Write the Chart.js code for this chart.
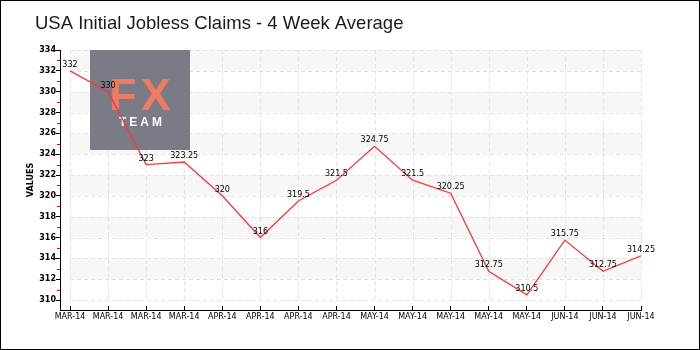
<!DOCTYPE html>
<html>
<head>
<meta charset="utf-8">
<script src="https://cdn.jsdelivr.net/npm/chart.js@4/dist/chart.umd.min.js"></script>
<style>
  html, body { margin: 0; padding: 0; background: #ffffff; }
  canvas { display: block; }
</style>
</head>
<body>
<canvas id="chart" width="700" height="350"></canvas>
<script>
// Weekly 4-week average of initial jobless claims (thousands)
const categories = ['MAR-14', 'MAR-14', 'MAR-14', 'MAR-14', 'APR-14', 'APR-14', 'APR-14', 'APR-14',
                    'MAY-14', 'MAY-14', 'MAY-14', 'MAY-14', 'MAY-14', 'JUN-14', 'JUN-14', 'JUN-14'];
const claims = [332, 330, 323, 323.25, 320, 316, 319.5, 321.5, 324.75, 321.5, 320.25, 312.75, 310.5, 315.75, 312.75, 314.25];
const yMin = 310;
const yMax = 334;
const yStep = 2;

const titleText = 'USA Initial Jobless Claims - 4 Week Average';
const axisTitle = 'VALUES';

const gridColor = '#e3e3e3';
const lineColor = '#ff3636';

// Axes sit 10px away from the plotted grid, so each range is padded a little
const xPad = -0.2627;
const yPad = 309.04;

// Tick positions: one per category, and every yStep on the value axis
const xTicks = (scale) => {
  scale.ticks = categories.map((_, i) => ({ value: i }));
};
const yTicks = (scale) => {
  const list = [];
  for (let v = yMin; v <= yMax; v += yStep) list.push({ value: v });
  scale.ticks = list;
};

// Alternating horizontal bands and the dashed grid, kept inside the data range
const gridPlugin = {
  id: 'bandsAndGrid',
  beforeDatasetsDraw(chart) {
    const { ctx } = chart;
    const x = chart.scales.x;
    const y = chart.scales.y;
    const left = x.getPixelForValue(0);
    const right = x.getPixelForValue(categories.length - 1);
    const top = y.getPixelForValue(yMax);
    const bottom = y.getPixelForValue(yMin);
    ctx.save();
    ctx.fillStyle = '#f7f7f7';
    for (let v = yMax; v > yMin; v -= 2 * yStep) {
      const t = y.getPixelForValue(v);
      const b = y.getPixelForValue(v - yStep);
      ctx.fillRect(left, t, right - left, b - t);
    }
    ctx.strokeStyle = gridColor;
    ctx.lineWidth = 1;
    ctx.setLineDash([4, 3]);
    ctx.beginPath();
    for (let v = yMin; v <= yMax; v += yStep) {
      const py = Math.round(y.getPixelForValue(v)) + 0.5;
      ctx.moveTo(left, py);
      ctx.lineTo(right + 1, py);
    }
    for (let i = 0; i < categories.length; i++) {
      const px = Math.round(x.getPixelForValue(i)) + 0.5;
      ctx.moveTo(px, top);
      ctx.lineTo(px, bottom + 1);
    }
    ctx.stroke();
    ctx.restore();
  }
};

// Brand block sitting over the grid, under the line
const badgePlugin = {
  id: 'badge',
  beforeDatasetsDraw(chart) {
    const { ctx, chartArea } = chart;
    const bx = chart.scales.x.getPixelForValue(0) + 20;
    const by = chartArea.top;
    ctx.save();
    ctx.fillStyle = '#7b7b85';
    ctx.fillRect(bx, by, 100, 100);
    ctx.textAlign = 'center';
    ctx.textBaseline = 'alphabetic';
    ctx.fillStyle = '#f17a62';
    ctx.font = 'bold 45px "Liberation Sans", Arial, sans-serif';
    ctx.letterSpacing = '4px';
    ctx.fillText('FX', bx + 52, by + 60);
    ctx.fillStyle = '#ffffff';
    ctx.font = 'bold 12px "Liberation Sans", Arial, sans-serif';
    ctx.letterSpacing = '3px';
    ctx.fillText('TEAM', bx + 52, by + 76);
    ctx.restore();
  }
};

// Value labels above points, red minor ticks, frame and title
const overlayPlugin = {
  id: 'overlay',
  afterDatasetsDraw(chart) {
    const { ctx } = chart;
    const meta = chart.getDatasetMeta(0);
    ctx.save();
    ctx.fillStyle = '#000000';
    ctx.font = '8px "DejaVu Sans", sans-serif';
    ctx.textAlign = 'center';
    ctx.textBaseline = 'bottom';
    meta.data.forEach((pt, i) => {
      ctx.fillText(String(claims[i]), pt.x, pt.y - 2);
    });
    ctx.restore();
  },
  afterDraw(chart) {
    const { ctx, chartArea } = chart;
    const y = chart.scales.y;
    const ax = Math.round(chartArea.left);
    ctx.save();
    ctx.fillStyle = '#ff0000';
    for (let v = yMin + yStep / 2; v < yMax; v += yStep) {
      ctx.fillRect(ax - 3, Math.round(y.getPixelForValue(v)), 3, 1);
    }
    ctx.strokeStyle = '#000000';
    ctx.lineWidth = 1;
    ctx.strokeRect(0.5, 0.5, chart.width - 1, chart.height - 1);
    ctx.fillStyle = '#1a1a1a';
    ctx.font = '18.5px "Liberation Sans", Arial, sans-serif';
    ctx.textAlign = 'left';
    ctx.textBaseline = 'alphabetic';
    ctx.fillText(titleText, 35, 29);
    ctx.restore();
  }
};

new Chart(document.getElementById('chart'), {
  type: 'line',
  data: {
    datasets: [{
      data: claims.map((v, i) => ({ x: i, y: v })),
      borderColor: lineColor,
      borderWidth: 1.3,
      pointRadius: 0,
      pointHoverRadius: 0,
      tension: 0,
      fill: false
    }]
  },
  options: {
    responsive: false,
    devicePixelRatio: 1,
    animation: false,
    events: [],
    layout: { padding: { top: 50, right: 59, bottom: 0, left: 0 } },
    plugins: {
      legend: { display: false },
      title: { display: false },
      tooltip: { enabled: false }
    },
    scales: {
      x: {
        type: 'linear',
        min: xPad,
        max: categories.length - 1,
        afterBuildTicks: xTicks,
        grid: { drawOnChartArea: false, drawTicks: true, tickLength: -4, tickColor: '#000000', lineWidth: 1 },
        border: { display: true, color: '#000000', width: 1 },
        ticks: {
          autoSkip: false, maxRotation: 0, minRotation: 0,
          color: '#000000', font: { family: 'DejaVu Sans', size: 8 }, padding: 6,
          callback: (v) => categories[v]
        },
        afterFit(scale) { scale.height = 40; }
      },
      y: {
        min: yPad,
        max: yMax,
        afterBuildTicks: yTicks,
        grid: { drawOnChartArea: false, drawTicks: true, tickLength: 4, tickColor: '#000000', lineWidth: 1 },
        border: { display: true, color: '#000000', width: 1 },
        ticks: {
          color: '#000000',
          font: { family: 'DejaVu Sans', size: 8, weight: 'bold' }, padding: 0
        },
        title: {
          display: true, text: axisTitle, color: '#000000',
          font: { family: 'DejaVu Sans', size: 8, weight: 'bold' },
          padding: { top: 26, bottom: 0 }
        },
        afterFit(scale) { scale.width = 60; }
      }
    }
  },
  plugins: [gridPlugin, badgePlugin, overlayPlugin]
});
</script>
</body>
</html>
